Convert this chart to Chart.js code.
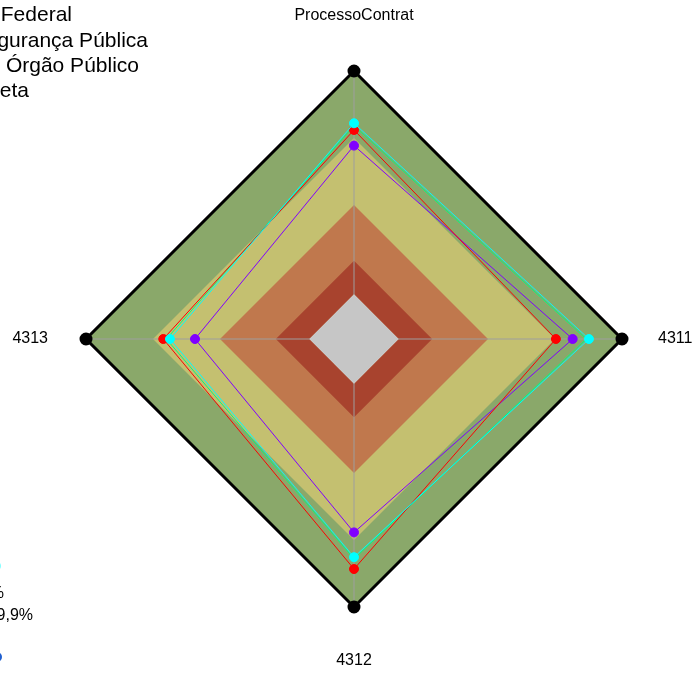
<!DOCTYPE html>
<html>
<head>
<meta charset="utf-8">
<script src="https://cdn.jsdelivr.net/npm/chart.js@4/dist/chart.umd.min.js"></script>
<style>
html,body{margin:0;padding:0;background:#fff;}
#wrap{width:696px;height:673px;position:relative;}
canvas{display:block;}
</style>
</head>
<body>
<div id="wrap"><canvas id="c" width="696" height="673" style="width:696px;height:673px"></canvas></div>
<script>
// ---- data ----
const categories = ["ProcessoContrat", "4311", "4312", "4313"];
const seriesNames = ["Administração Pública Federal", "Segurança Pública", "Outro Órgão Público", "Contratação Direta"];
const seriesCyan   = [76.6, 85.2, 77.7, 62.4];
const seriesRed    = [73.6, 70.4, 83.0, 65.4];
const seriesPurple = [66.6, 77.9, 66.6, 51.2];
const seriesGreen  = [75.5, 84.0, 78.5, 64.0];
const bandMax     = [100, 100, 100, 100];
const bandYellow  = [70, 70, 70, 70];
const bandOrange  = [40, 40, 40, 40];
const bandDarkRed = [15, 15, 15, 15];
const bandCenter  = [0, 0, 0, 0];
const bandLegendLabels = ["0% a 14,9%", "15% a 39,9%", "40% a 69,9%"];

const labelPlugin = {
  id: 'labelPlugin',
  afterDatasetsDraw(chart) {
    const ctx = chart.ctx;
    const r = chart.scales.r;
    const meta = chart.getDatasetMeta(chart.data.datasets.length - 1);
    ctx.save();
    ctx.beginPath();
    meta.data.forEach((p, i) => { if (i === 0) ctx.moveTo(p.x, p.y); else ctx.lineTo(p.x, p.y); });
    ctx.closePath();
    ctx.fillStyle = '#C6C6C6';
    ctx.fill();
    ctx.restore();

    ctx.save();
    ctx.fillStyle = '#000';
    ctx.font = '16px "Liberation Sans", Arial, sans-serif';
    const dists = [323, 304, 322, 306];
    const aligns = ['center', 'left', 'center', 'right'];
    categories.forEach((lab, i) => {
      const p = r.getPointPosition(i, dists[i]);
      ctx.textAlign = aligns[i];
      ctx.textBaseline = 'middle';
      ctx.fillText(lab, p.x, p.y);
    });
    ctx.restore();

    ctx.save();
    ctx.fillStyle = '#000';
    ctx.font = '21px "Liberation Sans", Arial, sans-serif';
    ctx.textAlign = 'right';
    ctx.textBaseline = 'alphabetic';
    const rights = [72, 148, 139, 29];
    const bases = [21, 46.5, 72, 97];
    seriesNames.forEach((s, i) => ctx.fillText(s, rights[i], bases[i]));
    ctx.font = '16px "Liberation Sans", Arial, sans-serif';
    ctx.fillText(bandLegendLabels[1], 4, 598);
    ctx.fillText(bandLegendLabels[2], 33, 620);
    ctx.fillStyle = '#1f5fd0';
    ctx.beginPath(); ctx.arc(-3, 657, 5, 0, Math.PI * 2); ctx.fill();
    ctx.fillStyle = '#7fffff';
    ctx.beginPath(); ctx.arc(-4, 566, 5, 0, Math.PI * 2); ctx.fill();
    ctx.restore();
  }
};

const lineDs = (data, color, pr) => ({
  data, borderColor: color, backgroundColor: color, pointBackgroundColor: color,
  pointBorderColor: color, borderWidth: 1, pointRadius: pr, pointHoverRadius: pr,
  fill: false, clip: false
});
const bandDs = (data, color) => ({
  data, borderWidth: 0, borderColor: 'rgba(0,0,0,0)', backgroundColor: color,
  pointRadius: 0, fill: 'origin', clip: false
});

new Chart(document.getElementById('c'), {
  type: 'radar',
  data: {
    labels: categories,
    datasets: [
      lineDs(seriesCyan, '#00FFFF', 4.5),
      lineDs(seriesRed, '#FF0000', 4.5),
      lineDs(seriesPurple, '#8000FF', 4.5),
      lineDs(seriesGreen, '#00FF7F', 0),
      { data: bandMax, borderColor: '#000', borderWidth: 3, pointRadius: 5,
        pointBackgroundColor: '#000', pointBorderColor: '#000', backgroundColor: 'rgba(0,0,0,0)', fill: false, clip: false },
      bandDs(bandDarkRed, '#A8432E'),
      bandDs(bandOrange, '#C0784D'),
      bandDs(bandYellow, '#C4C070'),
      bandDs(bandMax, '#8AA86A'),
      { data: bandCenter, borderWidth: 0, pointRadius: 0, fill: false, backgroundColor: 'rgba(0,0,0,0)' }
    ]
  },
  options: {
    responsive: false,
    animation: false,
    devicePixelRatio: 1,
    layout: { padding: { left: 86, right: 74, top: 71, bottom: 66 } },
    elements: { line: { tension: 0 } },
    scales: {
      r: {
        min: -20, max: 100,
        ticks: { display: false },
        grid: { display: false },
        angleLines: { display: true, color: '#9E9E9E', lineWidth: 1 },
        pointLabels: { display: false }
      }
    },
    plugins: {
      legend: { display: false },
      tooltip: { enabled: false },
      filler: { drawTime: 'beforeDraw' }
    }
  },
  plugins: [labelPlugin]
});
</script>
</body>
</html>
